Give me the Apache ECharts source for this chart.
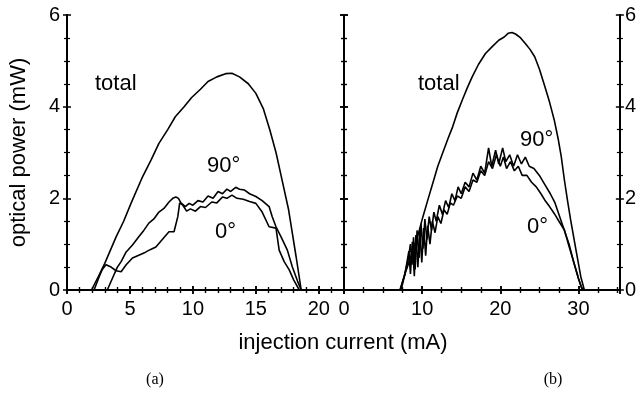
<!DOCTYPE html>
<html>
<head>
<meta charset="utf-8">
<script src="https://cdn.jsdelivr.net/npm/echarts@6/dist/echarts.min.js"></script>
<style>
  html, body { margin: 0; padding: 0; background: #fff; }
  #chart { width: 639px; height: 394px; }
</style>
</head>
<body>
<div id="chart"></div>
<script>
// panel (a): [current mA, power mW]
const totalA = [[1.95,0],[2.5,0.3],[3.0,0.58],[3.9,1.16],[4.5,1.5],[5.1,1.9],[6.0,2.47],[6.7,2.85],[7.3,3.2],[8.0,3.5],[8.6,3.78],[9.3,4.0],[9.9,4.2],[10.6,4.38],[11.2,4.55],[11.9,4.65],[12.6,4.72],[13.1,4.73],[13.7,4.65],[14.4,4.5],[15.0,4.29],[15.6,3.95],[16.1,3.5],[16.6,3.0],[17.0,2.5],[17.6,1.75],[18.2,0.72],[18.6,0]];
const deg90A = [[3.2,0],[3.6,0.25],[4.0,0.5],[4.3,0.62],[4.7,0.83],[5.2,0.98],[5.7,1.16],[6.1,1.3],[6.5,1.46],[6.9,1.55],[7.3,1.7],[7.7,1.78],[8.1,1.92],[8.4,2.0],[8.65,2.03],[8.85,2.0],[9.05,1.9],[9.4,1.82],[9.7,1.89],[10.0,1.85],[10.4,1.95],[10.8,1.92],[11.2,2.05],[11.6,2.0],[12.0,2.15],[12.35,2.1],[12.7,2.2],[13.0,2.15],[13.4,2.24],[13.7,2.2],[14.1,2.18],[14.5,2.1],[15.0,2.04],[15.5,1.95],[16.05,1.82],[16.3,1.6],[16.6,1.38],[17.0,1.16],[17.5,0.87],[17.9,0.5],[18.3,0.2],[18.6,0]];
const deg0A = [[2.15,0],[2.5,0.25],[2.8,0.45],[3.1,0.55],[3.5,0.5],[3.9,0.42],[4.3,0.4],[4.7,0.55],[5.2,0.7],[5.7,0.76],[6.2,0.82],[6.6,0.88],[7.06,0.94],[7.5,1.08],[8.1,1.27],[8.5,1.27],[8.8,1.6],[8.95,1.9],[9.2,1.85],[9.5,1.72],[9.8,1.77],[10.2,1.72],[10.6,1.82],[11.0,1.8],[11.5,1.92],[11.9,1.9],[12.35,2.03],[12.7,2.0],[13.1,2.07],[13.5,2.0],[14.0,1.98],[14.5,1.93],[15.0,1.89],[15.5,1.7],[16.05,1.38],[16.6,1.35],[16.85,0.87],[17.25,0.62],[17.65,0.44],[18.0,0.22],[18.45,0]];

// panel (b)
const totalB = [[0,0],[7.15,0],[8.0,0.45],[8.84,0.87],[9.5,1.22],[10.1,1.6],[10.7,1.95],[11.36,2.33],[12.0,2.7],[12.6,2.98],[13.3,3.3],[13.9,3.56],[14.5,3.87],[15.15,4.15],[15.8,4.42],[16.4,4.65],[17.2,4.92],[18.1,5.16],[18.9,5.3],[19.8,5.45],[20.5,5.52],[21.0,5.6],[21.5,5.62],[22.0,5.58],[22.6,5.5],[23.2,5.38],[23.8,5.25],[24.4,5.09],[25.0,4.82],[25.7,4.44],[26.3,4.1],[26.9,3.71],[27.4,3.3],[27.8,2.91],[28.2,2.4],[28.6,1.95],[29.0,1.53],[29.6,0.95],[30.3,0.29],[30.75,0],[35.3,0]];
const deg90B = [[0,0],[7.2,0],[7.7,0.3],[8.2,0.65],[8.5,1.0],[8.7,0.55],[8.9,1.15],[9.1,0.45],[9.35,1.3],[9.6,0.7],[9.85,1.45],[10.1,0.9],[10.35,1.55],[10.6,1.1],[10.9,1.6],[11.2,1.3],[11.5,1.7],[11.8,1.5],[12.2,1.85],[12.6,1.65],[13.0,1.95],[13.4,1.8],[13.8,2.1],[14.2,1.95],[14.6,2.25],[15.0,2.1],[15.5,2.35],[16.0,2.25],[16.5,2.55],[17.0,2.4],[17.5,2.7],[18.0,2.55],[18.5,3.1],[18.9,2.7],[19.4,3.05],[19.8,2.75],[20.3,3.1],[20.7,2.8],[21.2,2.95],[21.7,2.7],[22.2,2.95],[22.7,2.75],[23.2,2.9],[23.7,2.7],[24.3,2.65],[25.0,2.5],[25.7,2.3],[26.4,2.1],[27.0,1.9],[27.6,1.6],[28.2,1.3],[28.8,1.0],[29.4,0.6],[30.0,0.25],[30.5,0],[35.3,0]];
const deg0B = [[0,0],[7.3,0],[7.8,0.35],[8.3,0.85],[8.5,0.35],[8.75,1.05],[9.0,0.3],[9.2,1.2],[9.45,0.5],[9.7,1.3],[9.95,0.6],[10.2,1.35],[10.45,0.75],[10.7,1.4],[11.0,1.0],[11.3,1.5],[11.65,1.25],[12.0,1.6],[12.4,1.45],[12.8,1.75],[13.2,1.65],[13.6,1.9],[14.0,1.85],[14.5,2.05],[15.0,2.0],[15.5,2.25],[16.0,2.15],[16.5,2.4],[17.0,2.35],[17.5,2.6],[18.0,2.5],[18.5,2.8],[19.0,2.65],[19.5,2.95],[20.0,2.7],[20.4,2.9],[20.8,2.65],[21.3,2.8],[21.8,2.6],[22.3,2.7],[22.8,2.5],[23.4,2.5],[24.0,2.35],[24.6,2.25],[25.2,2.1],[25.7,1.96],[26.3,1.82],[26.9,1.67],[27.5,1.5],[28.2,1.31],[28.8,0.95],[29.5,0.55],[30.0,0.25],[30.4,0.05],[30.8,0],[35.3,0]];

const FONT = '"Liberation Sans", Arial, sans-serif';
const INK = "#000";

// axis with ticks on both sides of the line (two stacked axes)
function xAxes(grid, max, interval, minorSplit) {
  const base = {
    gridIndex: grid, type: "value", min: 0, max, interval,
    splitLine: { show: false },
    axisLine: { lineStyle: { color: INK, width: 2 } },
    minorTick: { show: true, splitNumber: minorSplit, length: 3, lineStyle: { color: INK, width: 1.2 } },
    axisTick: { inside: true, length: 4, lineStyle: { color: INK, width: 1.5 } },
  };
  const out = [];
  for (const pos of ["bottom", "top"]) {
    for (const inside of [true, false]) {
      out.push({
        ...base,
        position: pos,
        axisTick: { ...base.axisTick, inside },
        axisLabel: pos === "bottom" && inside
          ? { show: true, color: INK, fontFamily: FONT, fontSize: 20, margin: 9, showMaxLabel: false }
          : { show: false },
      });
    }
  }
  return out;
}

function yAxes(grid, labelSide) {
  const base = {
    gridIndex: grid, type: "value", min: 0, max: 6, interval: 2,
    splitLine: { show: false },
    axisLine: { onZero: false, lineStyle: { color: INK, width: 2 } },
    minorTick: { show: true, splitNumber: 4, length: 3, lineStyle: { color: INK, width: 1.2 } },
    axisTick: { inside: true, length: 4, lineStyle: { color: INK, width: 1.5 } },
  };
  const out = [];
  for (const pos of ["left", "right"]) {
    for (const inside of [true, false]) {
      const lab = pos === labelSide && inside;
      out.push({
        ...base,
        position: pos,
        axisTick: { ...base.axisTick, inside },
        axisLabel: lab
          ? { show: true, color: INK, fontFamily: FONT, fontSize: 20, margin: pos === "left" ? 7 : 5 }
          : { show: false },
      });
    }
  }
  return out;
}

const xs = [...xAxes(0, 22, 5, 5), ...xAxes(1, 35.3, 10, 4)];
const ys = [...yAxes(0, "left"), ...yAxes(1, "right")];
ys[0].name = "optical power (mW)";
ys[0].nameLocation = "middle";
ys[0].nameGap = 37;
ys[0].nameTextStyle = { color: INK, fontFamily: FONT, fontSize: 22 };

function line(data, xi, yi) {
  return {
    type: "line", data, xAxisIndex: xi, yAxisIndex: yi,
    showSymbol: false, symbol: "none", smooth: false,
    lineStyle: { color: INK, width: 1.6 },
  };
}

function label(text, x, y, font) {
  return {
    type: "text", x, y,
    style: { text, fill: INK, font: font || ("22px " + FONT), textAlign: "left", textVerticalAlign: "middle" },
  };
}

const chart = echarts.init(document.getElementById("chart"), null, { renderer: "canvas" });
chart.setOption({
  animation: false,
  backgroundColor: "#fff",
  grid: [
    { left: 67, top: 15, width: 277, height: 275 },
    { left: 344, top: 15, width: 279, height: 275 },
  ],
  xAxis: xs,
  yAxis: ys,
  series: [
    line(totalA, 0, 0), line(deg90A, 0, 0), line(deg0A, 0, 0),
    line(totalB, 4, 4), line(deg90B, 4, 4), line(deg0B, 4, 4),
  ],
  graphic: [
    label("total", 95, 84),
    label("90°", 207, 166),
    label("0°", 215, 232),
    label("total", 418, 84),
    label("90°", 520, 140),
    label("0°", 527, 227),
    { type: "text", x: 343, y: 343, style: { text: "injection current (mA)", fill: INK, font: "22px " + FONT, textAlign: "center", textVerticalAlign: "middle" } },
    { type: "text", x: 155, y: 380, style: { text: "(a)", fill: INK, font: '16px "Liberation Serif", "Times New Roman", serif', textAlign: "center", textVerticalAlign: "middle" } },
    { type: "text", x: 553, y: 380, style: { text: "(b)", fill: INK, font: '16px "Liberation Serif", "Times New Roman", serif', textAlign: "center", textVerticalAlign: "middle" } },
  ],
});
</script>
</body>
</html>
